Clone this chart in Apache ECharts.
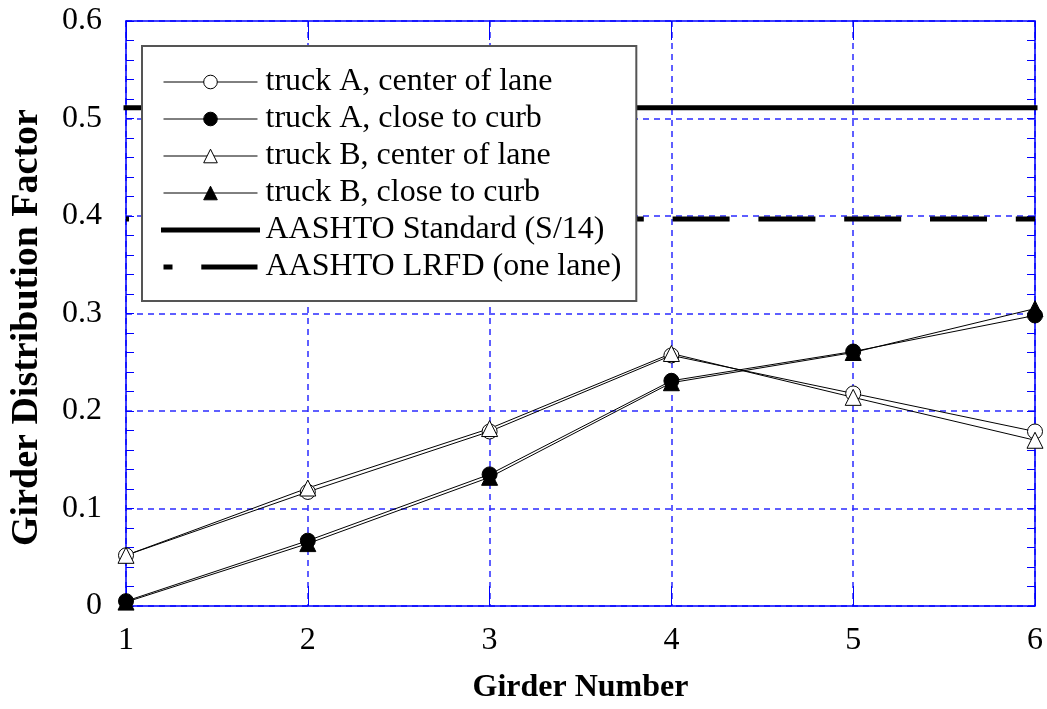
<!DOCTYPE html>
<html>
<head>
<meta charset="utf-8">
<script src="https://cdn.jsdelivr.net/npm/echarts@6/dist/echarts.min.js"></script>
<style>
html,body{margin:0;padding:0;background:#fff;}
#chart{width:1047px;height:709px;}
</style>
</head>
<body>
<div id="chart"></div>
<script>
// ---- data ----
var girders = [1, 2, 3, 4, 5, 6];
var truckACenter = [0.052, 0.117, 0.179, 0.257, 0.218, 0.179];
var truckACurb   = [0.005, 0.067, 0.135, 0.231, 0.261, 0.298];
var truckBCenter = [0.052, 0.121, 0.182, 0.259, 0.214, 0.170];
var truckBCurb   = [0.004, 0.064, 0.132, 0.229, 0.260, 0.305];
var aashtoStandard = [0.511, 0.511];
var aashtoLRFD = [0.397, 0.397];
var refX = [1, 6];
var seriesNames = [
  'truck A, center of lane',
  'truck A, close to curb',
  'truck B, center of lane',
  'truck B, close to curb',
  'AASHTO Standard (S/14)',
  'AASHTO LRFD (one lane)'
];
var xTitle = 'Girder Number';
var yTitle = 'Girder Distribution Factor';

function pairs(xs, ys) { return xs.map(function (x, i) { return [x, ys[i]]; }); }

var FONT = "'Liberation Serif', 'Times New Roman', serif";
var BLUE = '#0000ff';
var GRID_BLUE = '#2a2aff';
var LRFD_DASH = [57, 28.8];

function truckSeries(name, ys, symbol, filled) {
  return {
    name: name, type: 'line', xAxisIndex: 0, yAxisIndex: 0,
    data: pairs(girders, ys),
    symbol: symbol, symbolSize: symbol === 'triangle' ? 16 : 15,
    showSymbol: true,
    lineStyle: { color: '#000', width: 1 },
    itemStyle: { color: filled ? '#000' : '#fff', borderColor: '#000', borderWidth: 1 },
    z: 3, animation: false, silent: true
  };
}
function gridColors(n) { var a = []; for (var i = 0; i < n; i++) a.push(GRID_BLUE); return a; }

var chart = echarts.init(document.getElementById('chart'), null, { renderer: 'canvas' });

var option = {
  backgroundColor: '#fff',
  animation: false,
  grid: { left: 123, right: 12, top: 21, bottom: 103 },
  legend: {
    left: 142, top: 46, orient: 'vertical',
    backgroundColor: '#fff', borderColor: '#555', borderWidth: 2,
    padding: [20, 15, 18, 19],
    itemWidth: 94, itemHeight: 17, itemGap: 5,
    textStyle: { fontFamily: FONT, fontSize: 32, color: '#000', padding: [0, 0, 0, 3] },
    selectedMode: false,
    data: [
      { name: seriesNames[0], itemStyle: { color: '#fff', borderColor: '#000', borderWidth: 1 }, lineStyle: { color: '#000', width: 1 } },
      { name: seriesNames[1], itemStyle: { color: '#000', borderColor: '#000', borderWidth: 1 }, lineStyle: { color: '#000', width: 1 } },
      { name: seriesNames[2], itemStyle: { color: '#fff', borderColor: '#000', borderWidth: 1 }, lineStyle: { color: '#000', width: 1 } },
      { name: seriesNames[3], itemStyle: { color: '#000', borderColor: '#000', borderWidth: 1 }, lineStyle: { color: '#000', width: 1 } },
      { name: seriesNames[4], itemStyle: { opacity: 0 }, lineStyle: { color: '#000', width: 5, type: 'solid' } },
      { name: seriesNames[5], itemStyle: { opacity: 0 }, lineStyle: { color: '#000', width: 5, type: LRFD_DASH, dashOffset: 48 } }
    ]
  },
  xAxis: [
    {
      type: 'value', min: 1, max: 6, interval: 1, position: 'bottom',
      axisLine: { show: true, onZero: false, lineStyle: { color: BLUE, width: 1.5 } },
      axisTick: { show: true, inside: true, length: 20, lineStyle: { color: BLUE, width: 1 } },
      axisLabel: { fontFamily: FONT, fontSize: 32, color: '#000', margin: 19 },
      splitLine: { show: true, lineStyle: { color: gridColors(6), width: 1.5, type: [6, 5] } },
      name: xTitle, nameLocation: 'middle', nameGap: 66,
      nameTextStyle: { fontFamily: FONT, fontSize: 32, fontWeight: 'bold', color: '#000' }
    },
    {
      type: 'value', min: 1, max: 6, interval: 1, position: 'top',
      axisLine: { show: true, onZero: false, lineStyle: { color: BLUE, width: 1.5 } },
      axisTick: { show: true, inside: true, length: 19, lineStyle: { color: BLUE, width: 1 } },
      axisLabel: { show: false },
      splitLine: { show: false }
    }
  ],
  yAxis: [
    {
      type: 'value', min: 0, max: 0.6, interval: 0.1, position: 'left',
      axisLine: { show: true, onZero: false, lineStyle: { color: BLUE, width: 1.5 } },
      axisTick: { show: true, inside: true, length: 8, lineStyle: { color: BLUE, width: 1 } },
      minorTick: { show: true, splitNumber: 5, length: 8, lineStyle: { color: BLUE, width: 1 } },
      axisLabel: { fontFamily: FONT, fontSize: 32, color: '#000', margin: 24 },
      splitLine: { show: true, lineStyle: { color: gridColors(7), width: 1.5, type: [6, 5] } },
      name: yTitle, nameLocation: 'middle', nameGap: 80, nameRotate: 90,
      nameTextStyle: { fontFamily: FONT, fontSize: 38, fontWeight: 'bold', color: '#000', padding: [0, 28, 0, 0] }
    },
    {
      type: 'value', min: 0, max: 0.6, interval: 0.1, position: 'right',
      axisLine: { show: true, onZero: false, lineStyle: { color: BLUE, width: 1.5 } },
      axisTick: { show: true, inside: true, length: 8, lineStyle: { color: BLUE, width: 1 } },
      minorTick: { show: true, splitNumber: 5, length: 8, lineStyle: { color: BLUE, width: 1 } },
      axisLabel: { show: false },
      splitLine: { show: false }
    }
  ],
  series: [
    truckSeries(seriesNames[0], truckACenter, 'circle', false),
    truckSeries(seriesNames[1], truckACurb, 'circle', true),
    truckSeries(seriesNames[2], truckBCenter, 'triangle', false),
    truckSeries(seriesNames[3], truckBCurb, 'triangle', true),
    {
      name: seriesNames[4], type: 'line', xAxisIndex: 0, yAxisIndex: 0,
      data: pairs(refX, aashtoStandard),
      symbol: 'circle', symbolSize: 0, showSymbol: false,
      itemStyle: { color: '#000', opacity: 0 },
      lineStyle: { color: '#000', width: 5, cap: 'square' },
      z: 2, silent: true
    },
    {
      name: seriesNames[5], type: 'line', xAxisIndex: 0, yAxisIndex: 0,
      data: pairs(refX, aashtoLRFD),
      symbol: 'circle', symbolSize: 0, showSymbol: false,
      itemStyle: { color: '#000', opacity: 0 },
      lineStyle: { color: '#000', width: 5, type: LRFD_DASH, dashOffset: 54, cap: 'butt' },
      z: 2, silent: true
    }
  ]
};
chart.setOption(option);
</script>
</body>
</html>
